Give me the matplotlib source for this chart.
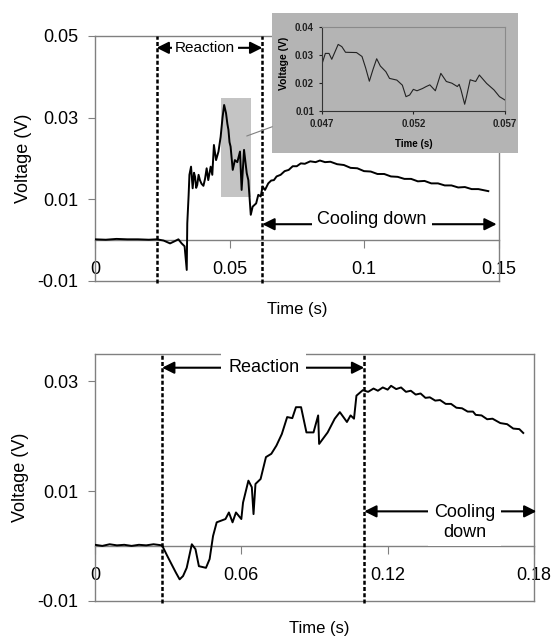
import matplotlib
matplotlib.use("Agg")
import matplotlib.pyplot as plt
from matplotlib.patches import Rectangle, ConnectionPatch

plt.rcParams['font.family'] = ['Liberation Sans', 'DejaVu Sans']

# top chart: time (s) / voltage (V)
t_top = [0, 0.004, 0.008, 0.012, 0.016, 0.020, 0.023, 0.0255, 0.0279, 0.0295,
         0.031, 0.0322, 0.0333, 0.0341, 0.0343, 0.0348, 0.0351, 0.0357, 0.0363,
         0.0368, 0.0372, 0.0376, 0.038, 0.0385, 0.039, 0.0396, 0.0403, 0.0409,
         0.0415, 0.0421, 0.043, 0.0436, 0.0442, 0.045, 0.0459, 0.0467, 0.0474,
         0.048, 0.0487, 0.0492, 0.0496, 0.05, 0.0504, 0.0512, 0.052, 0.0529,
         0.0539, 0.0545, 0.0554, 0.0564, 0.057, 0.0579, 0.0586, 0.0599, 0.0607,
         0.0616, 0.0623, 0.0632, 0.0644, 0.0655, 0.0665, 0.0675, 0.069, 0.0705,
         0.072, 0.0735, 0.075, 0.0765, 0.078, 0.080, 0.082, 0.0836, 0.0855,
         0.0875, 0.090, 0.0925, 0.095, 0.0975, 0.100, 0.1025, 0.105, 0.1075,
         0.110, 0.1125, 0.115, 0.1175, 0.120, 0.1225, 0.125, 0.1275, 0.130,
         0.1325, 0.135, 0.1375, 0.140, 0.1425, 0.1462]
v_top = [0.0002, 0.0001, 0.0003, 0.0002, 0.0002, 0.0001, 0.0002, -0.0001,
         -0.0008, -0.0003, 0.0002, -0.0008, -0.0015, -0.0073, 0.0041, 0.0110,
         0.0160, 0.0180, 0.0127, 0.0165, 0.0155, 0.0128, 0.0135, 0.0160,
         0.0147, 0.0138, 0.0133, 0.0150, 0.0176, 0.0147, 0.0180, 0.0160,
         0.0233, 0.0196, 0.0217, 0.0253, 0.0300, 0.0331, 0.0311, 0.0285,
         0.0270, 0.0240, 0.0229, 0.0172, 0.0196, 0.0191, 0.0217, 0.0123,
         0.0221, 0.0164, 0.0147, 0.0062, 0.0082, 0.0090, 0.0111, 0.0107,
         0.0131, 0.0123, 0.0139, 0.0146, 0.0147, 0.0156, 0.0160, 0.0169,
         0.0172, 0.0181, 0.0181, 0.0188, 0.0187, 0.0193, 0.0191, 0.0195,
         0.0191, 0.0192, 0.0186, 0.0184, 0.0177, 0.0176, 0.0169, 0.0168,
         0.0162, 0.0162, 0.0156, 0.0155, 0.0150, 0.0150, 0.0144, 0.0145,
         0.0139, 0.0139, 0.0134, 0.0134, 0.0129, 0.0130, 0.0125, 0.0125, 0.0120]

# inset (zoom of 0.047 - 0.057 s)
t_zoom = [0.047, 0.0472, 0.0474, 0.04755, 0.0479, 0.0481, 0.0483, 0.0489,
          0.0492, 0.0494, 0.0496, 0.0498, 0.050, 0.0502, 0.0505, 0.0507,
          0.0511, 0.0514, 0.0516, 0.0518, 0.052, 0.0522, 0.0525, 0.0527,
          0.0529, 0.0532, 0.0535, 0.0538, 0.0541, 0.0544, 0.0545, 0.0546,
          0.0548, 0.0549, 0.0551, 0.0554, 0.0556, 0.056, 0.0564, 0.0567, 0.057]
v_zoom = [0.0264, 0.0305, 0.0305, 0.0284, 0.0337, 0.0329, 0.0309, 0.0308,
          0.0294, 0.0253, 0.0206, 0.0248, 0.0286, 0.0260, 0.0240, 0.0216,
          0.0210, 0.0192, 0.0151, 0.0157, 0.0177, 0.0172, 0.0180, 0.0187,
          0.0193, 0.0172, 0.0234, 0.0205, 0.0199, 0.0187, 0.0195, 0.0175,
          0.0124, 0.0151, 0.0211, 0.0205, 0.0228, 0.0198, 0.0175, 0.0151, 0.0139]

# bottom chart
t_bot = [0, 0.003, 0.006, 0.009, 0.012, 0.015, 0.018, 0.021, 0.024, 0.0275,
         0.0296, 0.0318, 0.0332, 0.0347, 0.0361, 0.0376, 0.0397, 0.0412,
         0.0426, 0.0455, 0.047, 0.0484, 0.0499, 0.0535, 0.0549, 0.0564,
         0.0578, 0.060, 0.0607, 0.0629, 0.0643, 0.065, 0.0658, 0.0679, 0.0701,
         0.0723, 0.0744, 0.0766, 0.0788, 0.0809, 0.0824, 0.0845, 0.0867,
         0.0896, 0.0915, 0.0919, 0.0954, 0.0983, 0.1004, 0.1033, 0.1048,
         0.1062, 0.1072, 0.1098, 0.112, 0.1142, 0.116, 0.118, 0.120, 0.1214,
         0.1235, 0.1255, 0.1275, 0.1295, 0.1315, 0.1335, 0.1355, 0.1373,
         0.1395, 0.1415, 0.1438, 0.146, 0.1482, 0.1505, 0.1528, 0.155, 0.1561,
         0.1585, 0.1608, 0.163, 0.1662, 0.169, 0.1715, 0.174, 0.1756]
v_bot = [0.0002, 0.0000, 0.0003, 0.0001, 0.0002, 0.0000, 0.0002, 0.0001,
         0.0003, 0.0001, -0.0018, -0.0037, -0.0049, -0.0061, -0.0055,
         -0.0040, 0.0003, -0.0006, -0.0037, -0.0040, -0.0024, 0.0018, 0.0043,
         0.0049, 0.0061, 0.0043, 0.0061, 0.0049, 0.0079, 0.0119, 0.0107,
         0.0058, 0.0113, 0.0122, 0.0162, 0.0168, 0.0183, 0.0204, 0.0235,
         0.0233, 0.0253, 0.0253, 0.0207, 0.0207, 0.0238, 0.0186, 0.0207,
         0.0232, 0.0244, 0.0226, 0.0238, 0.0232, 0.0274, 0.0284, 0.0281,
         0.0287, 0.0283, 0.0289, 0.0285, 0.0292, 0.0286, 0.0289, 0.0281,
         0.0283, 0.0276, 0.0278, 0.0270, 0.0271, 0.0265, 0.0266, 0.0259,
         0.0259, 0.0252, 0.0251, 0.0245, 0.0245, 0.0239, 0.0238, 0.0231,
         0.0232, 0.0224, 0.0222, 0.0214, 0.0213, 0.0206]

GRAY = '#808080'

fig = plt.figure(figsize=(5.53, 6.39), dpi=100)


def style_axes(ax, xlim, ylim, xticks, xlabels, yticks, ylabels):
    ax.set_xlim(*xlim)
    ax.set_ylim(*ylim)
    for s in ax.spines.values():
        s.set_color(GRAY)
        s.set_linewidth(1.0)
    ax.spines['bottom'].set_position(('data', 0))
    # box bottom edge at ymin
    ax.plot(xlim, [ylim[0], ylim[0]], color=GRAY, lw=1.0, clip_on=False, zorder=1)
    ax.set_xticks(xticks)
    ax.set_xticklabels(xlabels)
    ax.set_yticks(yticks)
    ax.set_yticklabels(ylabels)
    ax.tick_params(axis='x', direction='out', length=6, color=GRAY, pad=9, labelsize=13)
    ax.tick_params(axis='y', direction='out', length=5, color=GRAY, pad=7, labelsize=13)


def span_arrow(ax, x1, x2, y):
    ax.annotate('', xy=(x2, y), xytext=(x1, y), annotation_clip=False,
                arrowprops=dict(arrowstyle='<|-|>,head_length=0.6,head_width=0.3',
                                color='black', lw=1.5, mutation_scale=12,
                                shrinkA=0, shrinkB=0))


# ---- top panel ----
ax1 = fig.add_axes([0.1718, 0.5603, 0.7297, 0.3834])
style_axes(ax1, (0, 0.15), (-0.01, 0.05), [0, 0.05, 0.1, 0.15],
           ['0', '0.05', '0.1', '0.15'], [-0.01, 0.01, 0.03, 0.05],
           ['-0.01', '0.01', '0.03', '0.05'])
ax1.add_patch(Rectangle((0.0468, 0.0105), 0.0112, 0.0242, facecolor='#c4c4c4',
                        edgecolor='none', zorder=0))
ax1.plot(t_top, v_top, color='black', lw=1.4, zorder=3)
for xr in (0.0229, 0.0622):
    ax1.axvline(xr, ymin=-0.008, ymax=1.0, color='black', lw=1.8,
                dashes=(1.6, 0.9), clip_on=False, zorder=4)
span_arrow(ax1, 0.0229, 0.0622, 0.0471)
ax1.text(0.0409, 0.0471, 'Reaction', ha='center', va='center', fontsize=11,
         bbox=dict(facecolor='white', edgecolor='none', pad=2), zorder=5)
span_arrow(ax1, 0.0622, 0.1493, 0.0039)
ax1.text(0.1029, 0.0051, 'Cooling down', ha='center', va='center', fontsize=13,
         bbox=dict(facecolor='white', edgecolor='none', pad=4), zorder=5)
ax1.set_ylabel('Voltage (V)', fontsize=13)
ax1.yaxis.set_label_coords(-0.156, 0.5)
ax1.set_xlabel('Time (s)', fontsize=12)
ax1.xaxis.set_label_coords(0.501, -0.086)

# grey box holding the inset
box = fig.add_axes([0.4924, 0.7601, 0.4449, 0.2191])
box.set_facecolor('#b4b4b4')
box.set_xticks([])
box.set_yticks([])
for s in box.spines.values():
    s.set_visible(False)

ins = fig.add_axes([0.5817, 0.8263, 0.3315, 0.1319])
ins.set_facecolor('#b4b4b4')
ins.plot(t_zoom, v_zoom, color='#222222', lw=0.8)
ins.set_xlim(0.047, 0.057)
ins.set_ylim(0.01, 0.04)
ins.set_xticks([0.047, 0.052, 0.057])
ins.set_xticklabels(['0.047', '0.052', '0.057'])
ins.set_yticks([0.01, 0.02, 0.03, 0.04])
ins.set_yticklabels(['0.01', '0.02', '0.03', '0.04'])
for side in ('left', 'bottom'):
    ins.spines[side].set_color('#333333')
for side in ('top', 'right'):
    ins.spines[side].set_color('#8a8a8a')
ins.tick_params(direction='out', length=2.5, width=0.8, labelsize=7, pad=3, colors='#222222')
for lab in ins.get_xticklabels() + ins.get_yticklabels():
    lab.set_fontweight('bold')
ins.set_xlabel('Time (s)', fontsize=7, fontweight='bold')
ins.xaxis.set_label_coords(0.5, -0.33)
ins.set_ylabel('Voltage (V)', fontsize=7.5, fontweight='bold')
ins.yaxis.set_label_coords(-0.18, 0.566)

con = ConnectionPatch(xyA=(0.0564, 0.0255), coordsA=ax1.transData,
                      xyB=(0.4924, 0.8017), coordsB=fig.transFigure,
                      color=GRAY, lw=0.8)
fig.add_artist(con)

# ---- bottom panel ----
ax2 = fig.add_axes([0.1718, 0.0599, 0.7938, 0.3861])
style_axes(ax2, (0, 0.18), (-0.01, 0.035), [0, 0.06, 0.12, 0.18],
           ['0', '0.06', '0.12', '0.18'], [-0.01, 0.01, 0.03],
           ['-0.01', '0.01', '0.03'])
ax2.plot(t_bot, v_bot, color='black', lw=1.4, zorder=3)
for xr in (0.0275, 0.1104):
    ax2.axvline(xr, ymin=-0.008, ymax=1.0, color='black', lw=1.8,
                dashes=(1.6, 0.9), clip_on=False, zorder=4)
span_arrow(ax2, 0.0275, 0.1104, 0.0325)
ax2.text(0.0692, 0.0325, 'Reaction', ha='center', va='center', fontsize=13,
         bbox=dict(facecolor='white', edgecolor='none', pad=5), zorder=5)
span_arrow(ax2, 0.1104, 0.181, 0.0063)
ax2.text(0.1516, 0.0043, 'Cooling\ndown', ha='center', va='center', fontsize=13,
         linespacing=1.2, bbox=dict(facecolor='white', edgecolor='none', pad=4), zorder=5)
ax2.set_ylabel('Voltage (V)', fontsize=13)
ax2.yaxis.set_label_coords(-0.151, 0.5)
ax2.set_xlabel('Time (s)', fontsize=12)
ax2.xaxis.set_label_coords(0.511, -0.082)

fig.savefig('out.png', dpi=100)
